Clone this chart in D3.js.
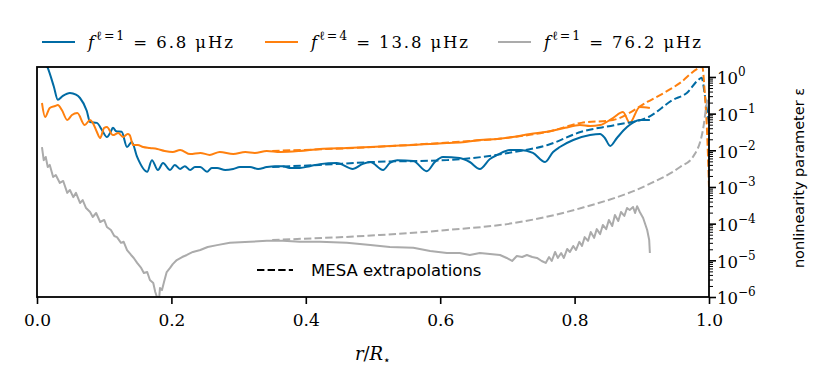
<!DOCTYPE html>
<html>
<head>
<meta charset="utf-8">
<script src="https://cdn.jsdelivr.net/npm/d3@7"></script>
<style>
  body { margin: 0; background: #fff; }
  svg { display: block; }
</style>
</head>
<body>
<div id="chart"></div>
<script>
// chart size
const WIDTH = 831, HEIGHT = 390;
const margin = {top: 67, right: 122, bottom: 93, left: 37};
const plot_w = WIDTH - margin.left - margin.right;
const plot_h = HEIGHT - margin.top - margin.bottom;

// series: r/R and nonlinearity parameter
let r_blue = [0.004, 0.016, 0.025, 0.031, 0.038, 0.049, 0.058, 0.064, 0.074, 0.079, 0.089, 0.097, 0.104, 0.109, 0.113, 0.118, 0.126, 0.134, 0.141, 0.149, 0.164, 0.171, 0.180, 0.1875, 0.198,
  0.205, 0.213, 0.220, 0.228, 0.235, 0.243, 0.253, 0.260, 0.268, 0.280, 0.292, 0.302, 0.317, 0.329, 0.342, 0.354, 0.366, 0.376, 0.391, 0.406, 0.421, 0.446, 0.470, 0.484, 0.496,
  0.515, 0.525, 0.536, 0.560, 0.580, 0.592, 0.604, 0.629, 0.644, 0.659, 0.674, 0.685, 0.704, 0.719, 0.738, 0.756, 0.768, 0.778, 0.798, 0.823, 0.838, 0.845, 0.853, 0.863, 0.878, 0.897, 0.912];
let eps_blue = [4.0, 1.76, 0.55, 0.24, 0.30, 0.366, 0.33, 0.267, 0.12, 0.059, 0.056, 0.035, 0.023, 0.030, 0.041, 0.033, 0.032, 0.0123, 0.0169, 0.0066, 0.0026, 0.0054, 0.0029, 0.0045, 0.0029,
  0.0040, 0.0031, 0.0037, 0.0029, 0.0035, 0.0035, 0.0026, 0.0033, 0.0033, 0.0029, 0.0031, 0.0035, 0.0035, 0.0031, 0.0035, 0.0037, 0.0037, 0.0033, 0.0033, 0.0037, 0.0042, 0.0045, 0.0031, 0.0042, 0.0048,
  0.0029, 0.0045, 0.0054, 0.0051, 0.0027, 0.0048, 0.0066, 0.0062, 0.0048, 0.0031, 0.0058, 0.0075, 0.0102, 0.0102, 0.0085, 0.0048, 0.0090, 0.0123, 0.0191, 0.026, 0.0279, 0.0217, 0.0131, 0.0217, 0.043, 0.067, 0.067];

let r_orange = [0.0074, 0.012, 0.019, 0.027, 0.031, 0.037, 0.045, 0.052, 0.060, 0.071, 0.079, 0.083, 0.089, 0.094, 0.100, 0.104, 0.113, 0.121, 0.128, 0.135, 0.138, 0.143, 0.150, 0.158, 0.168, 0.179,
  0.190, 0.202, 0.213, 0.228, 0.243, 0.257, 0.272, 0.292, 0.310, 0.324, 0.342, 0.362, 0.391, 0.421, 0.461, 0.496, 0.525, 0.560, 0.585, 0.610, 0.637, 0.659, 0.685, 0.708, 0.734, 0.759,
  0.786, 0.808, 0.823, 0.838, 0.857, 0.872, 0.882, 0.897, 0.912];
let eps_orange = [0.195, 0.081, 0.143, 0.162, 0.172, 0.126, 0.067, 0.092, 0.104, 0.049, 0.067, 0.056, 0.032, 0.0217, 0.041, 0.043, 0.026, 0.0297, 0.023, 0.0279, 0.026, 0.0140, 0.0140, 0.0123, 0.0116, 0.0109,
  0.0096, 0.0090, 0.0102, 0.0079, 0.0085, 0.0075, 0.0090, 0.0079, 0.0090, 0.0085, 0.0096, 0.0090, 0.0096, 0.0109, 0.0116, 0.0123, 0.0131, 0.0140, 0.0149, 0.0158, 0.0169, 0.0191, 0.0204, 0.023, 0.0279, 0.032,
  0.041, 0.049, 0.046, 0.049, 0.076, 0.111, 0.056, 0.152, 0.143];

let r_gray = [0.0074, 0.010, 0.013, 0.016, 0.019, 0.024, 0.028, 0.034, 0.039, 0.045, 0.049, 0.054, 0.058, 0.064, 0.068, 0.073, 0.079, 0.083, 0.088, 0.094, 0.100, 0.104, 0.110, 0.115, 0.119, 0.125,
  0.129, 0.134, 0.140, 0.144, 0.149, 0.155, 0.159, 0.164, 0.168, 0.173, 0.176, 0.179, 0.182, 0.183, 0.186, 0.189, 0.193, 0.198, 0.202, 0.208, 0.216, 0.223, 0.232, 0.243, 0.254, 0.268,
  0.287, 0.317, 0.342, 0.366, 0.391, 0.421, 0.461, 0.496, 0.525, 0.560, 0.585, 0.610, 0.629, 0.644, 0.659, 0.674, 0.689, 0.699, 0.707, 0.714, 0.722, 0.729, 0.737, 0.744, 0.751, 0.757,
  0.762, 0.766, 0.771, 0.775, 0.780, 0.784, 0.789, 0.793, 0.798, 0.802, 0.807, 0.811, 0.815, 0.820, 0.824, 0.829, 0.833, 0.838, 0.842, 0.847, 0.851, 0.856, 0.860, 0.865, 0.869, 0.874,
  0.878, 0.882, 0.887, 0.890, 0.893, 0.897, 0.902, 0.905, 0.908, 0.911, 0.912];
let eps_gray = [0.0123, 0.0054, 0.0066, 0.0035, 0.0040, 0.00187, 0.00212, 0.00129, 0.00146, 6.9e-4, 8.3e-4, 5.3e-4, 6.9e-4, 3.66e-4, 4.4e-4, 2.67e-4, 2.08e-4, 1.52e-4, 1.95e-4, 1.11e-4, 1.26e-4, 8.1e-5, 6.7e-5, 4.6e-5, 4.3e-5, 3.0e-5,
  3.2e-5, 1.91e-5, 1.40e-5, 1.16e-5, 8.5e-6, 6.2e-6, 4.5e-6, 4.8e-6, 2.9e-6, 2.4e-6, 1.37e-6, 9.4e-7, 1.06e-6, 1.76e-6, 1.55e-6, 2.56e-6, 4.8e-6, 6.2e-6, 7.9e-6, 1.02e-5, 1.23e-5, 1.40e-5, 1.69e-5, 1.91e-5, 2.31e-5, 2.6e-5,
  3.0e-5, 3.2e-5, 3.4e-5, 3.4e-5, 3.2e-5, 3.2e-5, 3.0e-5, 2.6e-5, 2.31e-5, 2.2e-5, 1.79e-5, 1.58e-5, 1.58e-5, 1.40e-5, 1.58e-5, 1.49e-5, 1.40e-5, 1.16e-5, 9.6e-6, 1.31e-5, 1.23e-5, 1.40e-5, 1.23e-5, 1.16e-5, 9.6e-6, 8.5e-6,
  1.23e-5, 9.6e-6, 1.69e-5, 1.16e-5, 1.58e-5, 1.16e-5, 2.04e-5, 1.69e-5, 2.46e-5, 1.91e-5, 3.2e-5, 2.46e-5, 4.3e-5, 3.4e-5, 5.9e-5, 4.1e-5, 7.1e-5, 5.2e-5, 9.2e-5, 7.1e-5, 1.26e-4, 8.6e-5, 1.72e-4, 1.18e-4, 2.08e-4, 1.62e-4,
  2.67e-4, 2.36e-4, 2.85e-4, 1.95e-4, 3.0e-4, 2.08e-4, 1.43e-4, 9.8e-5, 6.7e-5, 3.6e-5, 1.58e-5];

// MESA extrapolations (dashed)
let r_blue_mesa = [0.35, 0.42, 0.50, 0.61, 0.71, 0.76, 0.81, 0.86, 0.91, 0.946, 0.967, 0.984, 0.989, 0.994, 0.997, 1.0];
let eps_blue_mesa = [0.0035, 0.0040, 0.0048, 0.0054, 0.0090, 0.0140, 0.032, 0.049, 0.081, 0.236, 0.366, 0.83, 0.95, 0.30, 0.12, 0.05];
let r_orange_mesa = [0.35, 0.50, 0.60, 0.70, 0.76, 0.81, 0.857, 0.908, 0.957, 0.985, 0.990, 0.994, 0.997, 1.0];
let eps_orange_mesa = [0.0096, 0.0123, 0.0158, 0.022, 0.032, 0.056, 0.067, 0.208, 0.69, 1.76, 1.9, 0.3, 0.036, 0.001];
let r_gray_mesa = [0.35, 0.51, 0.61, 0.71, 0.81, 0.908, 0.957, 0.976, 0.991, 0.997, 1.0];
let eps_gray_mesa = [3.6e-5, 4.9e-5, 6.7e-5, 1.04e-4, 2.67e-4, 1.13e-3, 0.0035, 0.0066, 0.036, 0.2, 0.3];

let x_ticks = [0, 0.2, 0.4, 0.6, 0.8, 1.0];
let y_exponents = [-6, -5, -4, -3, -2, -1, 0];
let legend_labels = [
  {sup: "ℓ=1", rest: " = 6.8 μHz"},
  {sup: "ℓ=4", rest: " = 13.8 μHz"},
  {sup: "ℓ=1", rest: " = 76.2 μHz"}
];
let colors = ["#006BA4", "#FF800E", "#ABABAB"];

const SERIF = "'DejaVu Serif', serif";
const SANS = "'DejaVu Sans', sans-serif";

let svg = d3.select("#chart")
  .append("svg")
  .attr("width", WIDTH)
  .attr("height", HEIGHT);

let g = svg.append("g")
  .attr("transform", `translate(${margin.left}, ${margin.top})`);

// scales
let x = d3.scaleLinear().domain([0, 1]).range([0, plot_w]);
let y = d3.scaleLog().domain([1e-6, 1.87]).range([plot_h, 0]);

g.append("clipPath").attr("id", "clip")
  .append("rect").attr("width", plot_w).attr("height", plot_h);

let line = d3.line()
  .x(d => x(d[0]))
  .y(d => y(d[1]));

function pairs(rs, es) {
  return rs.map((r, i) => [r, es[i]]);
}

let lines = g.append("g").attr("clip-path", "url(#clip)");

// solid curves
let solid = [pairs(r_blue, eps_blue), pairs(r_orange, eps_orange), pairs(r_gray, eps_gray)];
solid.forEach(function(d, i) {
  lines.append("path")
    .datum(d)
    .attr("fill", "none")
    .attr("stroke", colors[i])
    .attr("stroke-width", 2)
    .attr("stroke-linejoin", "round")
    .attr("d", line.curve(i == 2 ? d3.curveLinear : d3.curveMonotoneX));
});

// dashed extrapolations
let dashed = [pairs(r_blue_mesa, eps_blue_mesa), pairs(r_orange_mesa, eps_orange_mesa), pairs(r_gray_mesa, eps_gray_mesa)];
dashed.forEach(function(d, i) {
  lines.append("path")
    .datum(d)
    .attr("fill", "none")
    .attr("stroke", colors[i])
    .attr("stroke-width", 2)
    .attr("stroke-dasharray", "7.4,3.2")
    .attr("d", line.curve(d3.curveMonotoneX));
});

// x axis
let xAxis = g.append("g")
  .attr("transform", `translate(0, ${plot_h})`)
  .call(d3.axisBottom(x).tickValues(x_ticks).tickFormat(d3.format(".1f")).tickSize(7).tickPadding(10));
xAxis.select(".domain").remove();
xAxis.selectAll("line").attr("stroke-width", 1.6);
xAxis.selectAll("text")
  .attr("font-family", SERIF).attr("font-size", 17)
  .style("font-family", SERIF).style("font-size", "17px").attr("fill", "#000");

// right y axis, major ticks
let yAxis = g.append("g")
  .attr("transform", `translate(${plot_w}, 0)`)
  .call(d3.axisRight(y).tickValues(y_exponents.map(e => Math.pow(10, e))).tickSize(7).tickPadding(6).tickFormat(""));
yAxis.select(".domain").remove();
yAxis.selectAll("line").attr("stroke-width", 1.6);
yAxis.selectAll(".tick").each(function(d) {
  let e = Math.round(Math.log10(d));
  let t = d3.select(this).append("text")
    .attr("x", 8)
    .attr("dy", "0.42em")
    .attr("fill", "#000")
    .style("font-family", SERIF)
    .style("font-size", "16.5px")
    .attr("text-anchor", "start");
  t.append("tspan").text("10");
  t.append("tspan").attr("dy", -8).style("font-size", "12px").text(e == 0 ? "0" : "−" + Math.abs(e));
});

// minor ticks
let minor = [];
y_exponents.forEach(function(e) {
  for (let k = 2; k < 10; k++) {
    let v = k * Math.pow(10, e);
    if (v < 1.87) minor.push(v);
  }
});
let yMinor = g.append("g")
  .attr("transform", `translate(${plot_w}, 0)`)
  .call(d3.axisRight(y).tickValues(minor).tickSize(4).tickFormat(""));
yMinor.select(".domain").remove();
yMinor.selectAll("line").attr("stroke-width", 1);

// frame
g.append("rect")
  .attr("width", plot_w)
  .attr("height", plot_h)
  .attr("fill", "none")
  .attr("stroke", "#000")
  .attr("stroke-width", 1.8);

// y label
svg.append("text")
  .attr("transform", `translate(804, ${margin.top + plot_h / 2 - 4}) rotate(-90)`)
  .attr("text-anchor", "middle")
  .style("font-family", SANS)
  .style("font-size", "14.5px")
  .text("nonlinearity parameter ε");

// x label r/R*
let xl = svg.append("text")
  .attr("x", margin.left + plot_w / 2)
  .attr("y", 360)
  .attr("text-anchor", "middle")
  .style("font-family", SERIF)
  .style("font-size", "18px");
xl.append("tspan").style("font-style", "italic").text("r");
xl.append("tspan").text("/");
xl.append("tspan").style("font-style", "italic").text("R");
xl.append("tspan").attr("dy", 4).style("font-size", "12px").text("⋆");

// top legend
let legend_x = [42, 265, 498];
let legend_len = [145, 157, 157];
legend_labels.forEach(function(d, i) {
  svg.append("line")
    .attr("x1", legend_x[i]).attr("x2", legend_x[i] + 33)
    .attr("y1", 42).attr("y2", 42)
    .attr("stroke", colors[i])
    .attr("stroke-width", 2);
  let t = svg.append("text")
    .attr("x", legend_x[i] + 46)
    .attr("y", 48)
    .attr("textLength", legend_len[i])
    .attr("lengthAdjust", "spacing")
    .style("font-family", SERIF)
    .style("font-size", "16.5px");
  t.append("tspan").style("font-style", "italic").text("f");
  t.append("tspan").attr("dy", -8).style("font-size", "12.5px").text(d.sup);
  t.append("tspan").attr("dy", 8).text(d.rest);
});

// MESA legend inside plot
svg.append("line")
  .attr("x1", 257).attr("x2", 293)
  .attr("y1", 270).attr("y2", 270)
  .attr("stroke", "#000")
  .attr("stroke-width", 2)
  .attr("stroke-dasharray", "7.4,3.2");
svg.append("text")
  .attr("x", 311)
  .attr("y", 276)
  .style("font-family", SANS)
  .style("font-size", "16.5px")
  .text("MESA extrapolations");
</script>
</body>
</html>
